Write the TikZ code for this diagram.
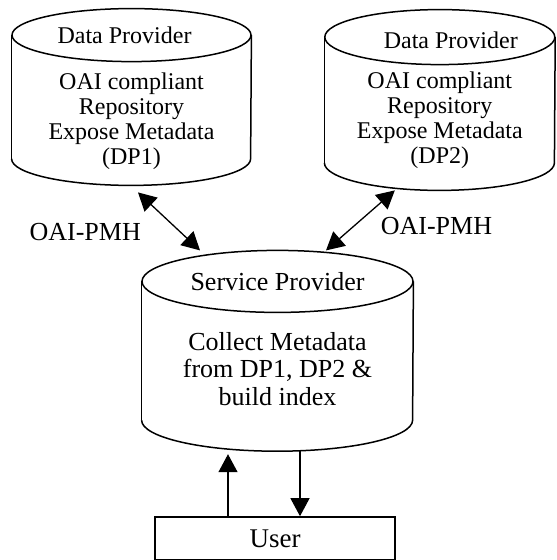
\documentclass[tikz,border=0pt]{standalone}
\usepackage{fontspec}
\setmainfont{Liberation Serif}
\usetikzlibrary{positioning,arrows.meta}

% cylinder outline on a box node: node, x radius, y radius
\newcommand{\cyl}[3]{%
  \draw[cylline] ([yshift=#3]#1.south west)
    arc[start angle=180, end angle=360, x radius=#2, y radius=#3]
    -- ([yshift=-#3]#1.north east);
  \draw[cylline] ([yshift=-#3]#1.north west) -- ([yshift=#3]#1.south west);
  \draw[cylline] ([yshift=-#3]#1.north) ellipse[x radius=#2, y radius=#3];
}

\begin{document}
\begin{tikzpicture}[
  x=0.5pt, y=-0.5pt,
  font=\fontsize{12}{12.5}\selectfont,
  dbbox/.style={rectangle, inner sep=0pt},
  cylline/.style={line width=0.75pt},
  usr/.style={rectangle, draw, line width=0.75pt, minimum width=120pt, minimum height=21.5pt, inner sep=0pt, font=\fontsize{13.5}{14}\selectfont},
  txt/.style={align=center, inner sep=0pt},
  flow/.style={-{Triangle[length=9pt,width=9.5pt]}, line width=0.65pt},
  both/.style={{Triangle[length=9pt,width=9.5pt]}-{Triangle[length=9pt,width=9.5pt]}, line width=0.65pt}
]
\useasboundingbox (0,0) rectangle (556,560);

% Top: the two data providers
\node[dbbox, minimum width=119.5pt, minimum height=88pt] (dpA) at (131.5,97) {};
\node[dbbox, minimum width=115pt, minimum height=90pt, right=36.5pt of dpA, yshift=-1.5pt] (dpB) {};

% Middle: service provider
\node[dbbox, minimum width=135.5pt, minimum height=100pt, below=32.5pt of dpA.south, xshift=73pt] (sp) {};

% Bottom: user
\node[usr, below=32.5pt of sp, xshift=-1.25pt] (user) {User};

\cyl{dpA}{59.75pt}{13.25pt}
\cyl{dpB}{57.5pt}{13.75pt}
\cyl{sp}{67.75pt}{15.5pt}

% Texts in the cylinders
\node[txt, below=9pt of dpA.north, xshift=-3.5pt] (dpAhead) {Data Provider};
\node[txt] (dpAbody) at ([yshift=-12pt]dpA.center) {OAI compliant\\Repository\\Expose Metadata\\(DP1)};
\node[txt, below=11pt of dpB.north, xshift=5.5pt] (dpBhead) {Data Provider};
\node[txt] (dpBbody) at ([yshift=-10pt]dpB.center) {OAI compliant\\Repository\\Expose Metadata\\(DP2)};
\node[txt, below=11pt of sp.north, font=\fontsize{13}{13.5}\selectfont] (sphead) {Service Provider};
\node[txt, font=\fontsize{13}{13.75}\selectfont] (spbody) at ([yshift=-9pt]sp.center) {Collect Metadata\\from DP1, DP2 \&\\build index};

% Harvesting
\draw[both] ([xshift=3.25pt, yshift=-3.5pt]dpA.south) -- ([xshift=-38.75pt]sp.north)
  node[pos=0.68, left=16pt, font=\fontsize{13}{13.5}\selectfont] (pmhA) {OAI-PMH};
\draw[both] ([xshift=-22.5pt]dpB.south) -- ([xshift=24.25pt]sp.north)
  node[pos=0.6, right=10pt, font=\fontsize{13}{13.5}\selectfont] (pmhB) {OAI-PMH};

% User requests
\draw[flow, shorten >=1.5pt] ([xshift=-24.75pt]sp.south |- user.north) -- ([xshift=-24.75pt]sp.south);
\draw[flow] ([xshift=11.25pt]sp.south) -- ([xshift=11.25pt]sp.south |- user.north);
\end{tikzpicture}
\end{document}
